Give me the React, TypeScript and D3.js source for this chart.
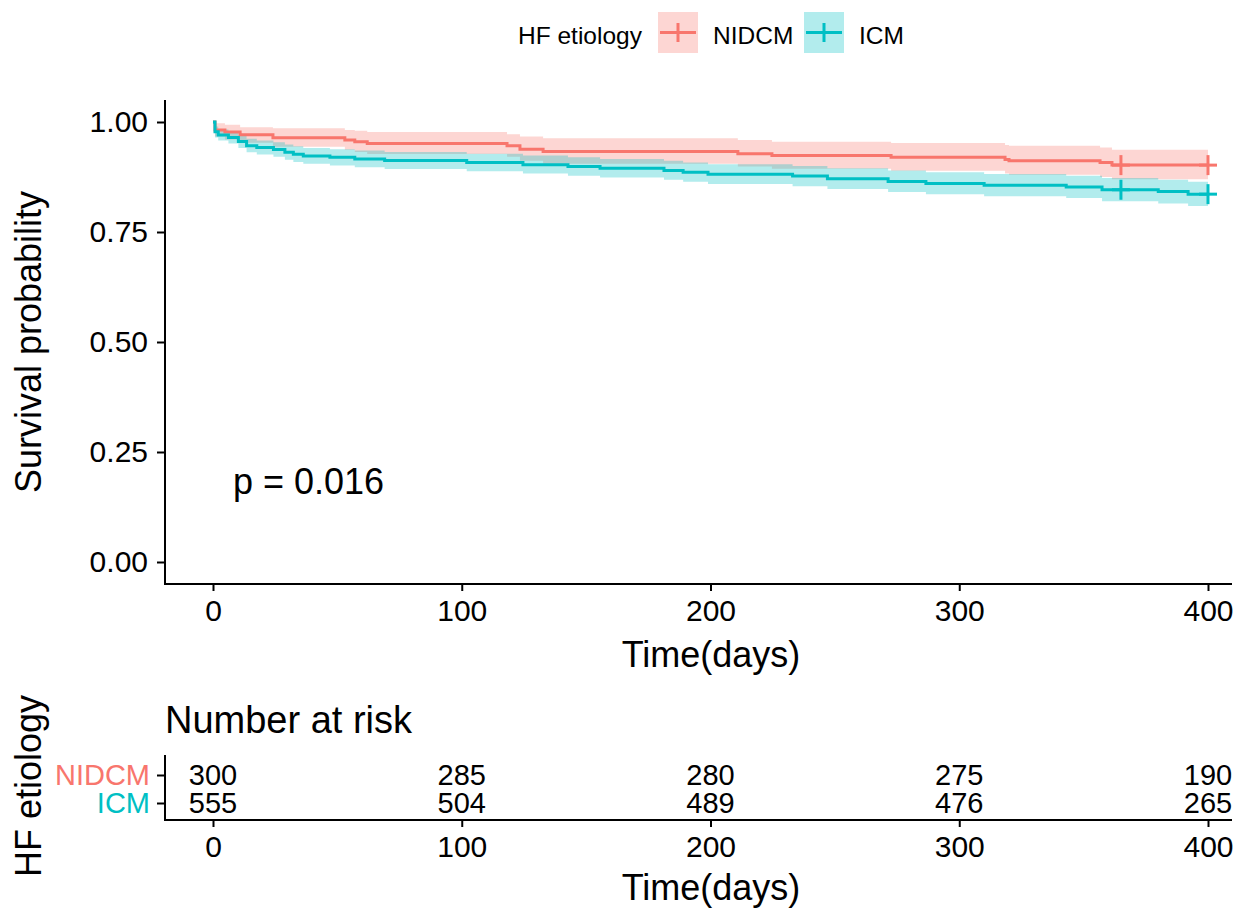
import React, { useRef, useEffect } from "react";
import * as d3 from "d3";

// Kaplan-Meier por etiología
const strata = ["NIDCM", "ICM"];
const colors = ["#F8766D", "#00BFC4"];

const nidcmTime = [0, 0.8, 4.8, 10.9, 24.1, 53, 57, 62, 118.2, 123.4, 132.7, 211, 224.7, 272.6, 318.4, 320, 356.6, 361.4, 400];
const nidcmSurv = [1, 0.982, 0.977, 0.971, 0.964, 0.959, 0.955, 0.951, 0.946, 0.938, 0.933, 0.928, 0.924, 0.92, 0.915, 0.912, 0.908, 0.902, 0.902];
const nidcmUpper = [1, 0.997, 0.994, 0.988, 0.986, 0.982, 0.98, 0.977, 0.972, 0.967, 0.963, 0.959, 0.955, 0.952, 0.948, 0.946, 0.942, 0.937, 0.937];
const nidcmLower = [1, 0.967, 0.96, 0.953, 0.944, 0.937, 0.932, 0.927, 0.921, 0.912, 0.905, 0.899, 0.894, 0.889, 0.883, 0.88, 0.875, 0.87, 0.87];

const icmTime = [0, 0.8, 2.1, 6.2, 10.2, 13.5, 17.6, 24.3, 28.9, 32.3, 36.3, 47, 57, 69, 102, 124.6, 142.7, 155.6, 181.3, 189, 199, 233, 247, 271.4, 286.6, 310, 343, 357.4, 380, 392, 400];
const icmSurv = [1, 0.978, 0.9705, 0.9645, 0.9554, 0.9463, 0.9418, 0.9373, 0.9312, 0.9267, 0.9229, 0.9199, 0.9161, 0.9123, 0.908, 0.903, 0.899, 0.895, 0.89, 0.886, 0.881, 0.877, 0.871, 0.865, 0.86, 0.856, 0.852, 0.846, 0.842, 0.836, 0.836];
const icmUpper = [1, 0.99, 0.983, 0.978, 0.97, 0.962, 0.958, 0.954, 0.949, 0.945, 0.941, 0.938, 0.935, 0.932, 0.928, 0.924, 0.92, 0.916, 0.912, 0.908, 0.904, 0.9, 0.895, 0.89, 0.886, 0.882, 0.878, 0.873, 0.869, 0.864, 0.864];
const icmLower = [1, 0.965, 0.958, 0.951, 0.941, 0.931, 0.926, 0.921, 0.914, 0.909, 0.905, 0.901, 0.897, 0.893, 0.888, 0.883, 0.878, 0.874, 0.869, 0.864, 0.859, 0.854, 0.848, 0.841, 0.836, 0.831, 0.827, 0.82, 0.815, 0.809, 0.809];

const censorTimes = [365, 400];

const riskTimes = [0, 100, 200, 300, 400];
const nidcmRisk = [300, 285, 280, 275, 190];
const icmRisk = [555, 504, 489, 476, 265];

const yTicks = [0, 0.25, 0.5, 0.75, 1];
const xTicks = [0, 100, 200, 300, 400];

const FONT = "'Liberation Sans', Arial, sans-serif";

const App = () => {
  const ref = useRef<SVGSVGElement>(null);

  useEffect(() => {
    const container = ref.current;
    if (!container) return;
    const svg = d3.select(container);
    svg.selectChildren().remove();
    svg.style("font-family", FONT);

    const series = [
      { name: strata[0], color: colors[0], t: nidcmTime, s: nidcmSurv, up: nidcmUpper, lo: nidcmLower },
      { name: strata[1], color: colors[1], t: icmTime, s: icmSurv, up: icmUpper, lo: icmLower },
    ];

    // Escalas
    const x = d3.scaleLinear().domain([0, 400]).range([213, 1208]);
    const y = d3.scaleLinear().domain([0, 1]).range([562, 122]);
    const panel = { left: 165, right: 1232, top: 100, bottom: 584 };

    // Leyenda
    const leg = svg.append("g");
    leg.append("text").attr("x", 518).attr("y", 44).style("font-size", "24.5px").text("HF etiology");
    const legX = [658, 804];
    series.forEach((d, i) => {
      const g = leg.append("g").attr("transform", `translate(${legX[i]}, 12)`);
      g.append("rect").attr("width", 40).attr("height", 41).attr("fill", d.color).attr("fill-opacity", 0.3);
      g.append("line").attr("x1", 2).attr("x2", 38).attr("y1", 20.5).attr("y2", 20.5)
        .attr("stroke", d.color).attr("stroke-width", 3);
      g.append("line").attr("x1", 20).attr("x2", 20).attr("y1", 11).attr("y2", 30)
        .attr("stroke", d.color).attr("stroke-width", 3);
      leg.append("text").attr("x", legX[i] + 55).attr("y", 44).style("font-size", "24.5px").text(d.name);
    });

    const plot = svg.append("g");

    // Bandas de confianza
    series.forEach((d) => {
      const a = d3.area<number>()
        .curve(d3.curveStepAfter)
        .x((_, i) => x(d.t[i]))
        .y0((_, i) => y(d.lo[i]))
        .y1((_, i) => y(d.up[i]));
      plot.append("path").attr("d", a(d.t)).attr("fill", d.color).attr("fill-opacity", 0.3);
    });

    // Curvas
    series.forEach((d) => {
      const l = d3.line<number>()
        .curve(d3.curveStepAfter)
        .x((_, i) => x(d.t[i]))
        .y((_, i) => y(d.s[i]));
      plot.append("path").attr("d", l(d.t)).attr("fill", "none")
        .attr("stroke", d.color).attr("stroke-width", 3);
    });

    // Marcas de censura
    series.forEach((d) => {
      censorTimes.forEach((ct) => {
        const idx = Math.max(0, d3.bisectRight(d.t, ct) - 1);
        const cx = x(ct), cy = y(d.s[idx]);
        plot.append("line").attr("x1", cx - 9).attr("x2", cx + 9).attr("y1", cy).attr("y2", cy)
          .attr("stroke", d.color).attr("stroke-width", 3);
        plot.append("line").attr("x1", cx).attr("x2", cx).attr("y1", cy - 10).attr("y2", cy + 10)
          .attr("stroke", d.color).attr("stroke-width", 3);
      });
    });

    // Ejes
    const axisStyle = (g, size) => {
      g.select(".domain").remove();
      g.selectAll(".tick line").attr("stroke", "#000").attr("stroke-width", 2);
      g.selectAll(".tick text").attr("fill", "#000").style("font-size", size).style("font-family", FONT);
    };
    svg.append("g").attr("transform", `translate(${panel.left}, 0)`)
      .call(d3.axisLeft(y).tickValues(yTicks).tickFormat(d3.format(".2f")).tickSize(8).tickPadding(9))
      .call((g) => axisStyle(g, "30px"));
    svg.append("g").attr("transform", `translate(0, ${panel.bottom})`)
      .call(d3.axisBottom(x).tickValues(xTicks).tickFormat(d3.format("d")).tickSize(7).tickPadding(9))
      .call((g) => axisStyle(g, "30px"));
    svg.append("path")
      .attr("d", `M${panel.left},${panel.top}V${panel.bottom}H${panel.right}`)
      .attr("fill", "none").attr("stroke", "#000").attr("stroke-width", 2);

    svg.append("text").attr("x", 711).attr("y", 667).attr("text-anchor", "middle")
      .style("font-size", "36px").text("Time(days)");
    svg.append("text").attr("transform", "translate(41, 342) rotate(-90)").attr("text-anchor", "middle")
      .style("font-size", "36px").text("Survival probability");
    svg.append("text").attr("x", 233).attr("y", 494).style("font-size", "36px").text("p = 0.016");

    // Tabla de número en riesgo
    const tb = { top: 755, bottom: 820 };
    const yr = d3.scalePoint().domain(strata).range([775, 803]);
    const risks = [nidcmRisk, icmRisk];

    svg.append("text").attr("x", 165).attr("y", 733).style("font-size", "38px").text("Number at risk");

    const tg = svg.append("g");
    strata.forEach((s, i) => {
      riskTimes.forEach((t, j) => {
        tg.append("text").attr("x", x(t)).attr("y", yr(s))
          .attr("text-anchor", "middle").attr("dy", "0.36em")
          .style("font-size", "29px").text(risks[i][j]);
      });
    });

    svg.append("g").attr("transform", `translate(${panel.left}, 0)`)
      .call(d3.axisLeft(yr).tickSize(8).tickPadding(7))
      .call((g) => axisStyle(g, "29px"))
      .call((g) => g.selectAll(".tick text").attr("fill", (d) => colors[strata.indexOf(d)]));
    svg.append("g").attr("transform", `translate(0, ${tb.bottom})`)
      .call(d3.axisBottom(x).tickValues(xTicks).tickFormat(d3.format("d")).tickSize(7).tickPadding(9))
      .call((g) => axisStyle(g, "30px"));
    svg.append("path")
      .attr("d", `M${panel.left},${tb.top}V${tb.bottom}H${panel.right}`)
      .attr("fill", "none").attr("stroke", "#000").attr("stroke-width", 2);

    svg.append("text").attr("x", 711).attr("y", 900).attr("text-anchor", "middle")
      .style("font-size", "36px").text("Time(days)");
    svg.append("text").attr("transform", "translate(41, 786) rotate(-90)").attr("text-anchor", "middle")
      .style("font-size", "36px").text("HF etiology");
  }, []);

  return (
    <svg
      ref={ref}
      width={1255}
      height={908}
      style={{ position: "absolute", left: 0, top: 0, background: "#fff" }}
    />
  );
};

export default App;
